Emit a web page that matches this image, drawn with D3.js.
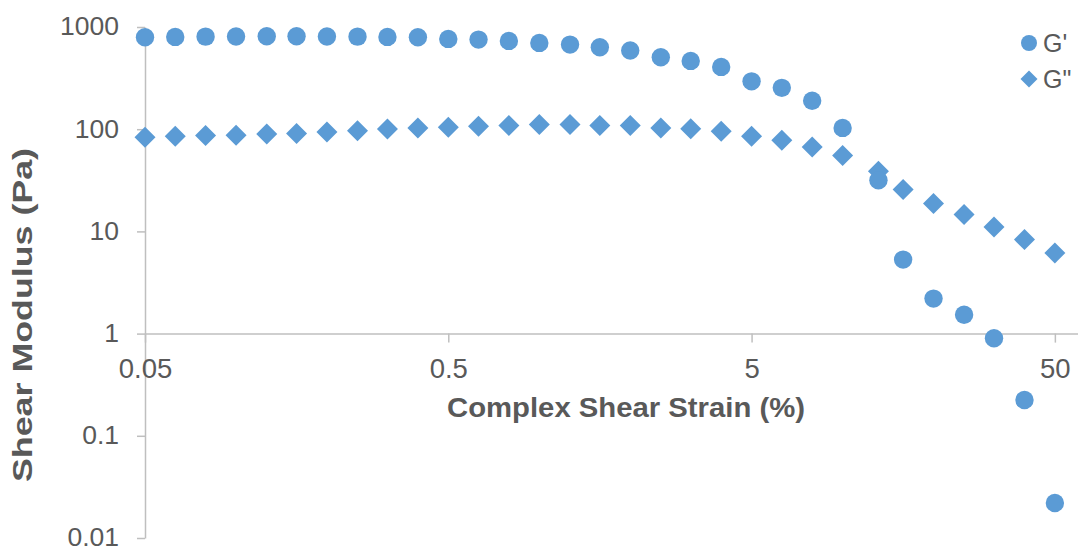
<!DOCTYPE html>
<html>
<head>
<meta charset="utf-8">
<script src="https://cdn.jsdelivr.net/npm/d3@7"></script>
<style>
  html, body { margin: 0; padding: 0; background: #ffffff; }
  svg { display: block; font-family: "Liberation Sans", Arial, sans-serif; }
</style>
</head>
<body>
<svg id="chart" width="1078" height="551"></svg>
<script>
// Strain sweep: storage (G') and loss (G") moduli versus complex shear strain
const strain = [0.05, 0.0629, 0.0792, 0.0998, 0.126, 0.158, 0.199, 0.251, 0.315, 0.397,
                0.5, 0.629, 0.792, 0.998, 1.26, 1.58, 1.99, 2.51, 3.15, 3.97,
                5.0, 6.29, 7.92, 9.98, 13.1, 15.8, 19.9, 25.1, 31.5, 39.7, 50];
const gStorage = [793, 800, 805, 808, 812, 812, 808, 805, 800, 793,
                  765, 753, 731, 699, 673, 633, 588, 505, 466, 407,
                  294, 254, 190, 103, 31.6, 5.3, 2.2, 1.53, 0.9, 0.224, 0.022];
const gLoss = [83.3, 85.3, 86.6, 87.2, 89.9, 91.0, 94.1, 96.3, 100.7, 103,
               104.4, 106.8, 108.4, 110.9, 110.9, 109, 108.4, 103, 101.3, 95.4,
               85.3, 77.9, 67.1, 55.2, 38.7, 25.7, 18.7, 14.6, 11.07, 8.31, 6.16];
const xTicks = [0.05, 0.5, 5, 50];
const xTickLabels = ["0.05", "0.5", "5", "50"];
const yTicks = [0.01, 0.1, 1, 10, 100, 1000];
const yTickLabels = ["0.01", "0.1", "1", "10", "100", "1000"];
const seriesNames = ["G'", "G\""];

const blue = "#5B9BD5";
const axisGray = "#BFBFBF";
const textGray = "#595959";

const svg = d3.select("#chart");

const x = d3.scaleLog().domain([0.05, 59.6]).range([145, 1078]);
const y = d3.scaleLog().domain([0.01, 1000]).range([538, 27]);

// Y axis (left)
const yAxis = d3.axisLeft(y)
  .tickValues(yTicks)
  .tickFormat((d, i) => yTickLabels[i])
  .tickSizeInner(8).tickSizeOuter(0).tickPadding(18);
const gy = svg.append("g").attr("transform", `translate(${x(0.05)},0)`).call(yAxis);
gy.select(".domain").attr("stroke", axisGray).attr("stroke-width", 1.5);
gy.selectAll(".tick line").attr("stroke", axisGray).attr("stroke-width", 1.5);
gy.selectAll(".tick text")
  .attr("fill", textGray).attr("font-size", 26.5).attr("dy", "0.3em")
  .attr("font-family", "Liberation Sans, Arial, sans-serif");

// X axis crossing at 1 Pa
const xAxis = d3.axisBottom(x)
  .tickValues(xTicks)
  .tickFormat((d, i) => xTickLabels[i])
  .tickSizeInner(9).tickSizeOuter(0).tickPadding(16);
const gx = svg.append("g").attr("transform", `translate(0,${y(1)})`).call(xAxis);
gx.select(".domain").attr("stroke", axisGray).attr("stroke-width", 1.5);
gx.selectAll(".tick line").attr("stroke", axisGray).attr("stroke-width", 1.5);
gx.selectAll(".tick text")
  .attr("fill", textGray).attr("font-size", 27.5)
  .attr("font-family", "Liberation Sans, Arial, sans-serif");

// Axis titles
svg.append("text")
  .attr("x", 626).attr("y", 417)
  .attr("text-anchor", "middle")
  .attr("font-size", 28).attr("font-weight", "bold").attr("fill", textGray)
  .attr("textLength", 358).attr("lengthAdjust", "spacingAndGlyphs")
  .text("Complex Shear Strain (%)");

svg.append("text")
  .attr("transform", "translate(32,315) rotate(-90)")
  .attr("text-anchor", "middle")
  .attr("font-size", 28).attr("font-weight", "bold").attr("fill", textGray)
  .attr("textLength", 334).attr("lengthAdjust", "spacingAndGlyphs")
  .text("Shear Modulus (Pa)");

// Markers
const diamond = s => `M0,${-s}L${s},0L0,${s}L${-s},0Z`;
const pts = strain.map((s, i) => ({ s, gp: gStorage[i], gpp: gLoss[i] }));

svg.append("g").selectAll("path")
  .data(pts)
  .join("path")
  .attr("d", diamond(10.5))
  .attr("transform", d => `translate(${x(d.s)},${y(d.gpp)})`)
  .attr("fill", blue);

svg.append("g").selectAll("circle")
  .data(pts)
  .join("circle")
  .attr("cx", d => x(d.s))
  .attr("cy", d => y(d.gp))
  .attr("r", 9.2)
  .attr("fill", blue);

// Legend
const legend = svg.append("g");
legend.append("circle").attr("cx", 1029).attr("cy", 43).attr("r", 8).attr("fill", blue);
legend.append("path").attr("d", diamond(8.5)).attr("transform", "translate(1029,79)").attr("fill", blue);
legend.selectAll("text")
  .data(seriesNames)
  .join("text")
  .attr("x", 1043)
  .attr("y", (d, i) => 43 + i * 36 + 9)
  .attr("font-size", 25).attr("fill", textGray)
  .text(d => d);
</script>
</body>
</html>
